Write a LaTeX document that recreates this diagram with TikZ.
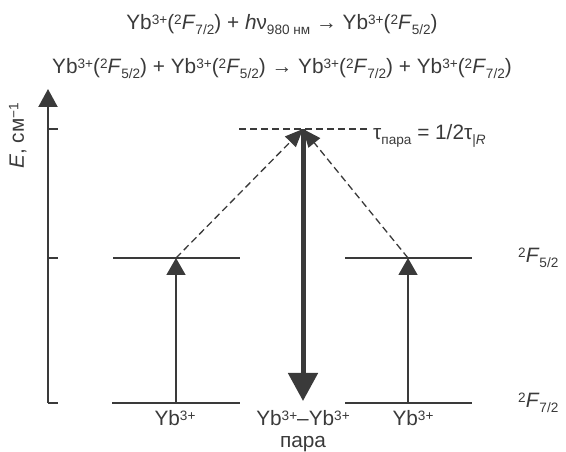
\documentclass[tikz,border=0pt]{standalone}
\usepackage{fontspec}
\setmainfont{Liberation Sans}
\usetikzlibrary{arrows.meta,positioning}

\definecolor{ink}{HTML}{3A3A3A}

% raised and lowered indices
\newcommand{\up}[1]{\raisebox{5.6pt}{\fontsize{13.6}{14}\selectfont #1}}
\newcommand{\dn}[1]{\raisebox{-4.5pt}{\fontsize{13.6}{14}\selectfont #1}}

\tikzset{
  axis/.style={draw=ink, line width=2.2pt},
  level/.style={draw=ink, line width=1.6pt},
  pump/.style={draw=ink, line width=1.4pt, -{Triangle[length=17pt,width=19pt]}},
  transfer/.style={draw=ink, line width=1.3pt, dash pattern=on 7pt off 4pt, -{Triangle[length=18pt,width=15pt]}},
  emit/.style={draw=ink, line width=5pt, -{Triangle[length=28pt,width=29pt]}},
  lbl/.style={text=ink, inner sep=0pt, anchor=base}
}

\begin{document}
\begin{tikzpicture}[x=1pt, y=1pt, font=\fontsize{20.8}{24}\selectfont]
    \useasboundingbox (0,0) rectangle (566,452);

    % reactions
    \node[lbl] (eqa) at (282,422) {Yb\up{3+}(\up{2}\textit{F}\dn{7/2}) + \textit{h}ν\dn{980 нм} → Yb\up{3+}(\up{2}\textit{F}\dn{5/2})};
    \node[lbl] (eqb) at (282,378) {Yb\up{3+}(\up{2}\textit{F}\dn{5/2}) + Yb\up{3+}(\up{2}\textit{F}\dn{5/2}) → Yb\up{3+}(\up{2}\textit{F}\dn{7/2}) + Yb\up{3+}(\up{2}\textit{F}\dn{7/2})};

    % energy axis
    \coordinate (ax0) at (48,49);
    \coordinate (ax1) at (48,363);
    \draw[axis, -{Triangle[length=18pt,width=19pt]}] (ax0) -- (ax1);
    \foreach \y in {49,194,323}
        \draw[axis] (48,\y) -- +(10,0);
    \node[lbl, rotate=90] (elab) at (24,316) {\textit{E}, см\up{−1}};

    % levels of the two ions
    \coordinate (ga) at (176,49);
    \coordinate (ea) at (176,194);
    \coordinate (gb) at (408,49);
    \coordinate (eb) at (408,194);
    \foreach \a/\b/\y in {112/240/49, 113/240/194, 345/472/49, 345/472/194}
        \draw[level] (\a,\y) -- (\b,\y);

    % pair level
    \coordinate (top) at (303,323);
    \coordinate (bot) at (303,51);
    \draw[level, dash pattern=on 7pt off 4pt] (239,323) -- (367,323);

    % transitions
    \draw[pump] (ga) -- (ea);
    \draw[pump] (gb) -- (eb);
    \draw[transfer] (ea) -- (top);
    \draw[transfer] (eb) -- (top);
    \draw[emit] (top) -- (bot);

    \node[lbl, anchor=base west] (tau) at (373,312) {τ\dn{пара} = 1/2τ\dn{|\textit{R}}};

    % labels
    \node[lbl] (ya) at (175,26) {Yb\up{3+}};
    \node[lbl] (yp) at (303,26) {Yb\up{3+}–Yb\up{3+}};
    \node[lbl] (para) at (303,4) {пара};
    \node[lbl] (yb) at (413,26) {Yb\up{3+}};
    \node[lbl, anchor=base west] (fa) at (518,189) {\up{2}\textit{F}\dn{5/2}};
    \node[lbl, anchor=base west] (fb) at (518,44) {\up{2}\textit{F}\dn{7/2}};
\end{tikzpicture}
\end{document}
